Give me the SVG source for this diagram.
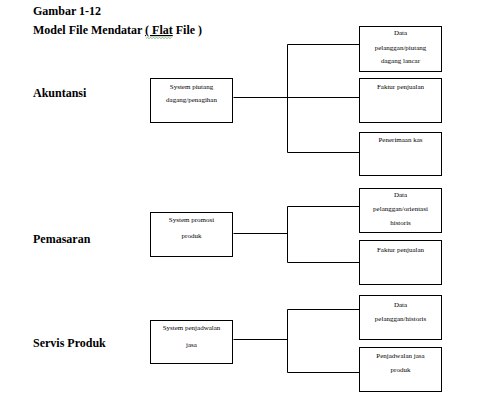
<svg xmlns="http://www.w3.org/2000/svg" width="483" height="407" viewBox="0 0 483 407">
<style>
.t{font-family:'Liberation Serif','Times New Roman',Times,serif;font-weight:bold;font-size:12px;fill:#000}
.s{font-family:'Liberation Serif','Times New Roman',Times,serif;font-size:7px;fill:#000;text-anchor:middle}
.b{fill:#fff;stroke:#000;stroke-width:1}
.c{fill:none;stroke:#000;stroke-width:1}
</style>
<rect width="483" height="407" fill="#fff"/>
<g id="title">
<text class="t" x="33" y="15">Gambar 1-12</text>
<text class="t" x="33" y="34">Model File Mendatar <tspan text-decoration="underline">( Flat</tspan> File )</text>
<path d="M146,38.5 l1.5,-1 l1.5,1 l1.5,-1 l1.5,1 l1.5,-1 l1.5,1 l1.5,-1 l1.5,1 l1.5,-1 l1.5,1 l1.5,-1 l1.5,1 l1.5,-1 l1.5,1 l1.5,-1 l1.5,1 l1.5,-1" fill="none" stroke="#3a9a3a" stroke-width="0.6"/>
</g>
<g id="dept-labels">
<text class="t" x="33" y="97">Akuntansi</text>
<text class="t" x="33" y="243">Pemasaran</text>
<text class="t" x="33" y="347">Servis Produk</text>
</g>
<g id="connectors">
<path class="c" d="M233.5,97.5 H359.5 M287.5,44.5 V152.5 M287.5,44.5 H359.5 M287.5,152.5 H359.5"/>
<path class="c" d="M233.5,233.5 H287.5 M287.5,206.5 V262.5 M287.5,206.5 H359.5 M287.5,262.5 H359.5"/>
<path class="c" d="M233.5,339.5 H287.5 M287.5,309.5 V372.5 M287.5,309.5 H359.5 M287.5,372.5 H359.5"/>
</g>
<g id="sys-piutang">
<rect class="b" x="150.5" y="78.5" width="82" height="44"/>
<text class="s" x="191.5" y="89">System piutang</text>
<text class="s" x="191.5" y="102">dagang/penagihan</text>
</g>
<g id="data-piutang">
<rect class="b" x="359.5" y="26.5" width="82" height="45"/>
<text class="s" x="400.5" y="35">Data</text>
<text class="s" x="400.5" y="50">pelanggan/piutang</text>
<text class="s" x="400.5" y="63">dagang lancar</text>
</g>
<g id="faktur-1">
<rect class="b" x="359.5" y="78.5" width="82" height="44"/>
<text class="s" x="400.5" y="89">Faktur penjualan</text>
</g>
<g id="penerimaan-kas">
<rect class="b" x="359.5" y="132.5" width="82" height="43"/>
<text class="s" x="400.5" y="142">Penerimaan kas</text>
</g>
<g id="sys-promosi">
<rect class="b" x="150.5" y="212.5" width="82" height="44"/>
<text class="s" x="191.5" y="222">System promosi</text>
<text class="s" x="191.5" y="238">produk</text>
</g>
<g id="data-orientasi">
<rect class="b" x="359.5" y="188.5" width="82" height="44"/>
<text class="s" x="400.5" y="197">Data</text>
<text class="s" x="400.5" y="211">pelanggan/orientasi</text>
<text class="s" x="400.5" y="225">historis</text>
</g>
<g id="faktur-2">
<rect class="b" x="359.5" y="240.5" width="82" height="44"/>
<text class="s" x="400.5" y="252">Faktur penjualan</text>
</g>
<g id="sys-penjadwalan">
<rect class="b" x="150.5" y="320.5" width="82" height="43"/>
<text class="s" x="191.5" y="330">System penjadwalan</text>
<text class="s" x="191.5" y="347">jasa</text>
</g>
<g id="data-historis">
<rect class="b" x="359.5" y="295.5" width="82" height="44"/>
<text class="s" x="400.5" y="307">Data</text>
<text class="s" x="400.5" y="321">pelanggan/historis</text>
</g>
<g id="penjadwalan-jasa">
<rect class="b" x="359.5" y="347.5" width="82" height="44"/>
<text class="s" x="400.5" y="358">Penjadwalan jasa</text>
<text class="s" x="400.5" y="372">produk</text>
</g>
</svg>
